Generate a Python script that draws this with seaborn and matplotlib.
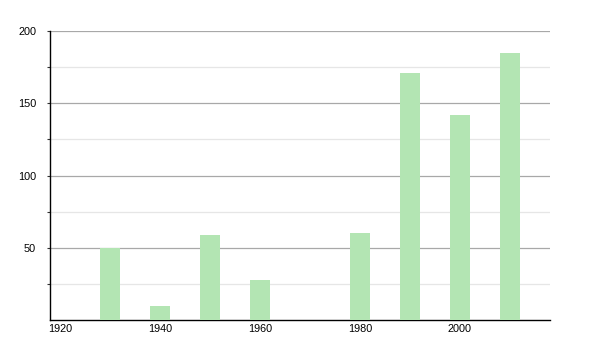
import matplotlib
matplotlib.use("Agg")
import matplotlib.pyplot as plt
import seaborn as sns
import pandas as pd
from matplotlib.ticker import FixedLocator

years = [1930, 1940, 1950, 1960, 1980, 1990, 2000, 2010]
values = [50, 10, 59, 28, 60, 171, 142, 185]
x_ticks = [1920, 1940, 1960, 1980, 2000]
y_ticks = [50, 100, 150, 200]

sns.set_style("white")
plt.rcParams['font.family'] = ['Liberation Sans', 'DejaVu Sans']

df = pd.DataFrame({"year": years, "value": values})

fig = plt.figure(figsize=(6, 3.5), dpi=100)
ax = fig.add_axes([50/600, 30/350, 500/600, 289/350])

sns.barplot(data=df, x="year", y="value", native_scale=True, width=0.4,
            color="#b3e5b3", saturation=1, edgecolor="none", ax=ax, zorder=3)

ax.set_xlim(1918, 2018)
ax.set_ylim(0, 200)
ax.xaxis.set_major_locator(FixedLocator(x_ticks))
ax.set_xticklabels([str(t) for t in x_ticks])
ax.yaxis.set_major_locator(FixedLocator(y_ticks))
ax.yaxis.set_minor_locator(FixedLocator([25, 75, 125, 175]))
ax.grid(axis="y", which="major", color="#a8a8a8", linewidth=0.9, zorder=1)
ax.grid(axis="y", which="minor", color="#e6e6e6", linewidth=0.9, zorder=1)
ax.set_axisbelow(True)

for s in ["top", "right"]:
    ax.spines[s].set_visible(False)
for s in ["left", "bottom"]:
    ax.spines[s].set_color("black")
    ax.spines[s].set_linewidth(1.0)

ax.tick_params(axis="y", which="both", direction="out", length=2, width=0.8,
               color="#333333", labelsize=7.8, pad=8, left=True, labelcolor="black")
ax.tick_params(axis="x", which="both", length=0, labelsize=7.8, pad=3, labelcolor="black")
ax.set_xlabel("")
ax.set_ylabel("")

fig.savefig("out.png", dpi=100)
